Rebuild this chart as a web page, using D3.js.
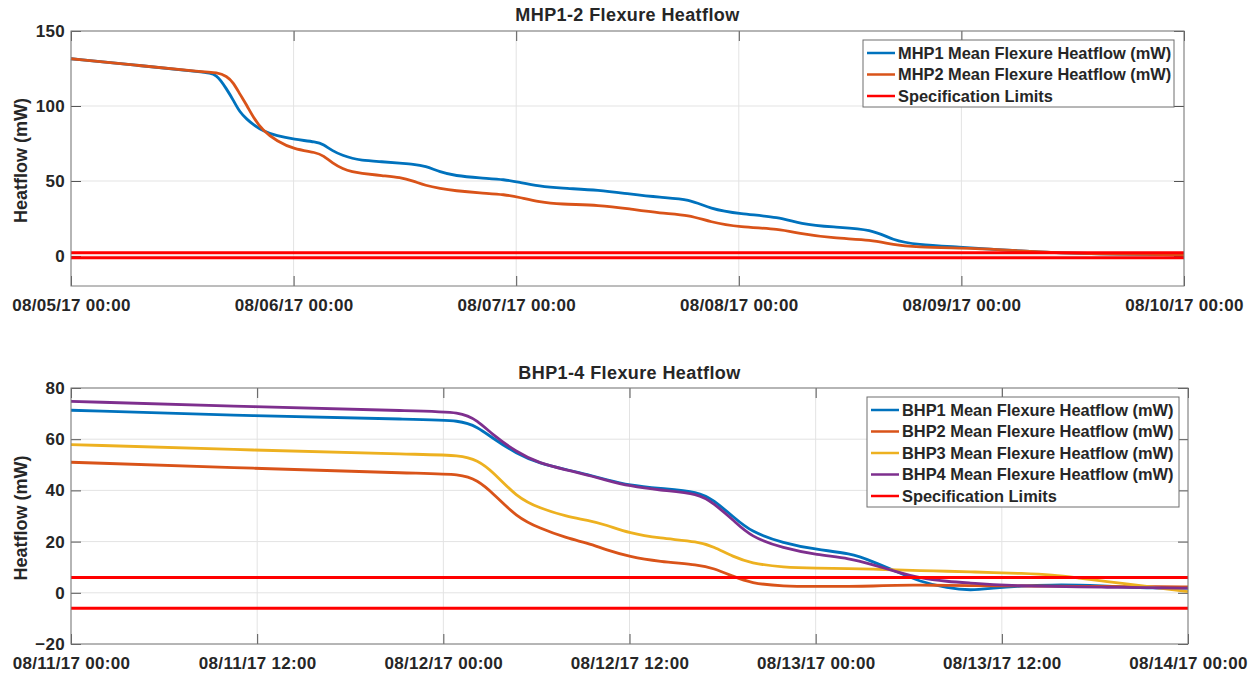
<!DOCTYPE html>
<html>
<head>
<meta charset="utf-8">
<script src="https://cdn.jsdelivr.net/npm/d3@7"></script>
<style>
	body { margin: 0; background: #fff; }
	svg text { font-family: "Liberation Sans", Arial, Helvetica, sans-serif; font-weight: bold; fill: #262626; }
</style>
</head>
<body>
<div id="chart"></div>
<script>

//////// DATA ////////
// top panel, hours after 08/05/17 00:00
var mhpHours = [0, 7.4, 14.4, 15.7, 16.8, 17.5, 18.2, 19.0, 19.6, 20.7, 22.2, 24.0, 26.5, 27.2, 28.2, 29.3,
	30.4, 31.1, 33.6, 35.5, 36.9, 38.2, 39.8, 41.4, 44.1, 46.8, 48.4, 50.5, 52.7, 57.0, 60.2, 63.5,
	66.7, 68.9, 72.1, 76.4, 78.6, 82.1, 86.4, 88.6, 91.2, 95.8, 100.1, 103.4, 106.6, 110.9, 116.3, 120];
var mhp1Values = [131.5, 127, 122.5, 121.5, 111, 104, 95.7, 91, 87.8, 83.3, 80, 77.8, 76, 74.5, 70, 67,
	65, 64, 62.8, 61.8, 61.2, 60, 56, 53.5, 52, 51, 49, 46.5, 45.2, 44, 41.3, 39,
	38, 31.4, 28, 26, 21.4, 19.2, 18, 10.4, 7.5, 6, 4.2, 3, 2, 1.5, 1, 0.8];
var mhp2Values = [131.5, 127, 122.5, 122.5, 120, 115.6, 108, 100, 93, 83.3, 76.7, 71.2, 69, 66.8, 62, 58,
	56, 55.3, 53.5, 52.4, 50, 47, 45, 43.5, 42, 41, 39, 36, 34.5, 34, 31.4, 28.5,
	27.4, 22.6, 19.2, 18.1, 14.8, 11.9, 10.8, 7.5, 6, 5.3, 4.4, 3, 2, 1.5, 1, 0.8];
var mhpLimits = [2.2, -1.2];
var mhpNames = ["MHP1 Mean Flexure Heatflow (mW)", "MHP2 Mean Flexure Heatflow (mW)"];
var mhpYTicks = [0, 50, 100, 150];

// bottom panel, hours after 08/11/17 00:00
var bhpHours = [0, 12, 22.5, 25.1, 26.2, 27.2, 28.7, 30.2, 32.0, 33.3, 34.5, 36.0, 37.9, 40.5, 41.4, 42.7,
	43.8, 45.9, 48.1, 50.2, 51.7, 53.2, 54.7, 56.5, 58.0, 59.4, 61.2, 63.3, 65.0, 66.5, 67.6, 69.7, 72];
var bhp1Values = [71.3, 69.1, 67.7, 67.4, 64.8, 60.3, 54.4, 50.5, 48, 46.2, 44.2, 42, 40.8, 39.5, 36.2, 29.7,
	23.9, 19.4, 16.8, 15.5, 12.2, 8.3, 4.4, 1.8, 0.9, 1.8, 2.7, 3.1, 3.0, 2.7, 2.4, 1.8, 1.8];
var bhp2Values = [51, 48.6, 46.6, 46.4, 44, 38.9, 29.7, 25.2, 21.3, 19.4, 16.8, 14.1, 12.2, 10.9, 9.6, 6.4,
	3.8, 2.5, 2.5, 2.5, 2.6, 3.0, 3.0, 2.9, 2.8, 2.7, 2.7, 2.6, 2.5, 2.5, 2.4, 2.4, 2.3];
var bhp3Values = [57.9, 55.7, 54, 53.8, 51.8, 47.3, 37.5, 33, 29.7, 28.4, 26.5, 23.3, 21.3, 20, 18, 14.1,
	11.6, 9.9, 9.6, 9.5, 9.2, 9.0, 8.7, 8.4, 8.2, 7.9, 7.6, 7.0, 5.7, 4.6, 3.8, 2.2, 0.5];
var bhp4Values = [74.8, 72.6, 71.0, 70.7, 67.4, 61.6, 55.1, 50.5, 47.9, 46, 44, 41.7, 40.1, 38.8, 35, 28.4,
	21.9, 17.4, 14.8, 13.5, 10.9, 8.3, 5.7, 4.4, 3.8, 3.2, 2.7, 2.5, 2.3, 2.2, 2.1, 2.0, 1.8];
var bhpLimits = [6, -6];
var bhpNames = ["BHP1 Mean Flexure Heatflow (mW)", "BHP2 Mean Flexure Heatflow (mW)",
	"BHP3 Mean Flexure Heatflow (mW)", "BHP4 Mean Flexure Heatflow (mW)"];
var bhpYTicks = [-20, 0, 20, 40, 60, 80];

var limitName = "Specification Limits";

//////// CANVAS ////////
var width = 1258, height = 673;
var colors = ["#0072BD", "#D95319", "#EDB120", "#7E2F8E"];
var limitColor = "#FF0000";
var fmt = d3.timeFormat("%m/%d/%y %H:%M");

var svg = d3.select("#chart").append("svg")
	.attr("width", width)
	.attr("height", height);

function plotPanel(o) {

	var x = d3.scaleTime().domain([o.start, o.end]).range([o.left, o.right]);
	var y = d3.scaleLinear().domain(o.yDomain).range([o.bottom, o.top]);
	var xTicks = x.ticks(o.interval);

	var g = svg.append("g");

	// grid
	g.selectAll(".gx").data(xTicks).enter().append("line")
		.attr("x1", x).attr("x2", x)
		.attr("y1", o.top).attr("y2", o.bottom)
		.attr("stroke", "#e3e3e3").attr("stroke-width", 1);
	g.selectAll(".gy").data(o.yTicks).enter().append("line")
		.attr("x1", o.left).attr("x2", o.right)
		.attr("y1", y).attr("y2", y)
		.attr("stroke", "#e3e3e3").attr("stroke-width", 1);

	// axes (ticks pointing inward, MATLAB-like)
	var axB = g.append("g").attr("transform", "translate(0," + o.bottom + ")")
		.call(d3.axisBottom(x).tickValues(xTicks).tickSizeInner(-10).tickSizeOuter(0).tickPadding(13).tickFormat(fmt));
	var axT = g.append("g").attr("transform", "translate(0," + o.top + ")")
		.call(d3.axisTop(x).tickValues(xTicks).tickSizeInner(-10).tickSizeOuter(0).tickFormat(""));
	var axL = g.append("g").attr("transform", "translate(" + o.left + ",0)")
		.call(d3.axisLeft(y).tickValues(o.yTicks).tickSizeInner(-10).tickSizeOuter(0).tickPadding(6));
	var axR = g.append("g").attr("transform", "translate(" + o.right + ",0)")
		.call(d3.axisRight(y).tickValues(o.yTicks).tickSizeInner(-10).tickSizeOuter(0).tickFormat(""));

	[axB, axT, axL, axR].forEach(function(a) {
		a.select(".domain").remove();
		a.selectAll("line").attr("stroke", "#555").attr("stroke-width", 1);
		a.selectAll("text")
			.style("font-size", "17px")
			.style("letter-spacing", "0.3px")
			.attr("fill", "#262626");
	});

	// plotted data
	var line = d3.line()
		.curve(d3.curveBasis)
		.x(function(d) { return x(d.t); })
		.y(function(d) { return y(d.v); });

	o.series.forEach(function(values, i) {
		var pts = values.map(function(v, j) { return { t: new Date(+o.start + o.hours[j] * 3600e3), v: v }; });
		g.append("path")
			.datum(pts)
			.attr("d", line)
			.attr("fill", "none")
			.attr("stroke", colors[i])
			.attr("stroke-width", 2.8)
			.attr("stroke-linejoin", "round");
	});

	g.selectAll(".lim").data(o.limits).enter().append("line")
		.attr("x1", o.left).attr("x2", o.right)
		.attr("y1", y).attr("y2", y)
		.attr("stroke", limitColor)
		.attr("stroke-width", 3);

	// box
	g.append("rect")
		.attr("x", o.left).attr("y", o.top)
		.attr("width", o.right - o.left).attr("height", o.bottom - o.top)
		.attr("fill", "none")
		.attr("stroke", "#7a7a7a")
		.attr("stroke-width", 1);

	// title and y label
	g.append("text")
		.attr("x", (o.left + o.right) / 2)
		.attr("y", o.titleY)
		.attr("text-anchor", "middle")
		.style("font-size", "18px")
		.style("letter-spacing", "0.4px")
		.attr("fill", "#000")
		.text(o.title);

	g.append("text")
		.attr("transform", "translate(27," + ((o.top + o.bottom) / 2 + 2) + ") rotate(-90)")
		.attr("text-anchor", "middle")
		.style("font-size", "18px")
		.attr("fill", "#262626")
		.text("Heatflow (mW)");

	// legend
	var names = o.names.concat([limitName]);
	var lc = colors.slice(0, o.names.length).concat([limitColor]);
	var lg = g.append("g");
	lg.append("rect")
		.attr("x", o.legend.x).attr("y", o.legend.y)
		.attr("width", o.legend.w).attr("height", o.legend.h)
		.attr("fill", "#fff")
		.attr("stroke", "#6e6e6e")
		.attr("stroke-width", 1);
	names.forEach(function(n, i) {
		var cy = o.legend.y + 13 + i * 21.5;
		lg.append("line")
			.attr("x1", o.legend.x + 4).attr("x2", o.legend.x + 32)
			.attr("y1", cy).attr("y2", cy)
			.attr("stroke", lc[i])
			.attr("stroke-width", 2.5);
		lg.append("text")
			.attr("x", o.legend.x + 35)
			.attr("y", cy)
			.attr("dy", "0.36em")
			.style("font-size", "16.4px")
			.attr("fill", "#000")
			.text(n);
	});
}

plotPanel({
	start: new Date(2017, 7, 5), end: new Date(2017, 7, 10),
	interval: d3.timeDay.every(1),
	hours: mhpHours, series: [mhp1Values, mhp2Values], names: mhpNames,
	limits: mhpLimits, yDomain: [-20, 150], yTicks: mhpYTicks,
	left: 71, right: 1184, top: 31, bottom: 286,
	title: "MHP1-2 Flexure Heatflow", titleY: 21,
	legend: { x: 863, y: 40, w: 311, h: 67 }
});

plotPanel({
	start: new Date(2017, 7, 11), end: new Date(2017, 7, 14),
	interval: d3.timeHour.every(12),
	hours: bhpHours, series: [bhp1Values, bhp2Values, bhp3Values, bhp4Values], names: bhpNames,
	limits: bhpLimits, yDomain: [-20, 80], yTicks: bhpYTicks,
	left: 71, right: 1188, top: 388, bottom: 644,
	title: "BHP1-4 Flexure Heatflow", titleY: 379,
	legend: { x: 867, y: 397, w: 312, h: 110 }
});

</script>
</body>
</html>
